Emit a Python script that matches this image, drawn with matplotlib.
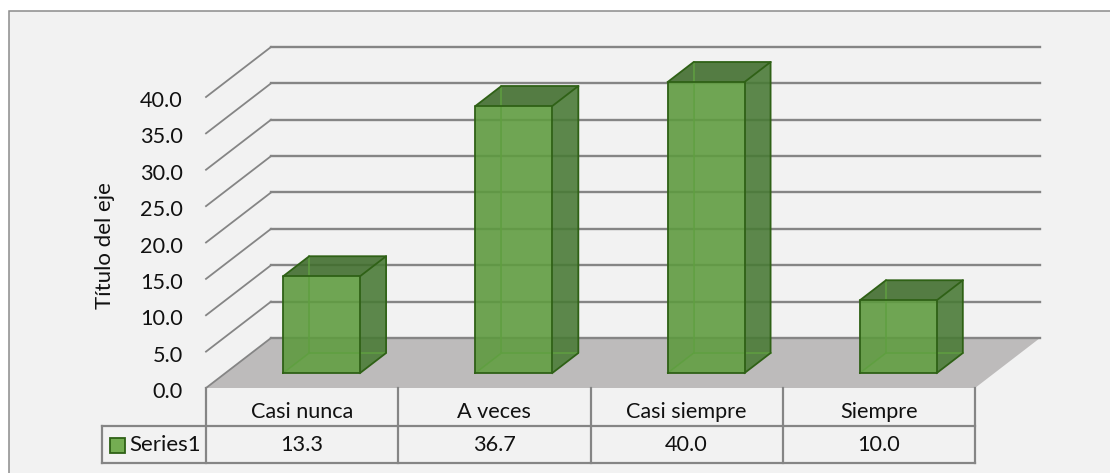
# -*- coding: utf-8 -*-
import matplotlib
matplotlib.use('Agg')
import matplotlib.pyplot as plt
from matplotlib.patches import Polygon, Rectangle

categories = ['Casi nunca', 'A veces', 'Casi siempre', 'Siempre']
values = [13.3, 36.7, 40.0, 10.0]
value_labels = ['13.3', '36.7', '40.0', '10.0']
ticks = [0, 5, 10, 15, 20, 25, 30, 35, 40]
series_name = 'Series1'
axis_title = 'Título del eje'

GRID = '#858585'
BG = '#f2f2f2'
TXT = '#111111'
FS = 15.6

# scale of the chart, pixels per category / per value unit
PX_CAT = 192.25
PX_VAL = 7.275
X0, Y0 = 206, 388
# oblique shift of the back wall, in data units
DX = 65 / PX_CAT
DY = 50 / PX_VAL

plt.rcParams['font.family'] = ['Lato', 'DejaVu Sans']


def proj(x, v, d):
    """category position, value, depth 0-1 -> 2d data coords"""
    return (x + d * DX, v + d * DY)


def draw_bar(ax, i, v, width=0.4, d0=0.3, d1=0.7):
    x0 = i + 0.5 - width / 2
    x1 = x0 + width
    edge = '#2f6116'
    faces = [
        # back, left, floor first so they show through the front
        ([(x0, 0, d1), (x1, 0, d1), (x1, v, d1), (x0, v, d1)], '#548c38', 0.55),
        ([(x0, 0, d0), (x0, 0, d1), (x0, v, d1), (x0, v, d0)], '#4a7f30', 0.55),
        ([(x0, 0, d0), (x1, 0, d0), (x1, 0, d1), (x0, 0, d1)], '#609c40', 0.55),
        ([(x0, v, d0), (x1, v, d0), (x1, v, d1), (x0, v, d1)], '#3d682b', 0.75),
        ([(x1, 0, d0), (x1, 0, d1), (x1, v, d1), (x1, v, d0)], '#477735', 0.75),
        ([(x0, 0, d0), (x1, 0, d0), (x1, v, d0), (x0, v, d0)], '#619f41', 0.75),
    ]
    for pts, col, a in faces:
        xy = [proj(*p) for p in pts]
        ax.add_patch(Polygon(xy, closed=True, facecolor=col, alpha=a, edgecolor='none', zorder=4))
    # hidden edges lighter, visible ones dark
    for pts, col, lw in [
        ([(x0, 0, d1), (x1, 0, d1)], '#5f9f40', 1.1),
        ([(x0, 0, d1), (x0, v, d1)], '#5f9f40', 1.1),
        ([(x0, 0, d0), (x0, 0, d1)], '#5f9f40', 1.1),
        ([(x0, 0, d0), (x1, 0, d0), (x1, v, d0), (x0, v, d0), (x0, 0, d0)], edge, 1.3),
        ([(x1, 0, d0), (x1, 0, d1), (x1, v, d1), (x1, v, d0)], edge, 1.3),
        ([(x0, v, d0), (x0, v, d1), (x1, v, d1)], edge, 1.3),
    ]:
        xy = [proj(*p) for p in pts]
        ax.plot([p[0] for p in xy], [p[1] for p in xy], color=col, lw=lw, zorder=5,
                solid_joinstyle='round')


fig = plt.figure(figsize=(11.10, 4.73), dpi=100, facecolor='white')
ax = fig.add_axes([0, 0, 1, 1])
ax.set_xlim(-X0 / PX_CAT, (1110 - X0) / PX_CAT)
ax.set_ylim((Y0 - 473) / PX_VAL, Y0 / PX_VAL)
ax.axis('off')

# chart area
left = (9 - X0) / PX_CAT
top = (Y0 - 11) / PX_VAL
ax.add_patch(Rectangle((left, -20), 30, top + 20, facecolor=BG, edgecolor='#8c8c8c', lw=1.1, zorder=0))

n = len(categories)

# floor
floor = [proj(0, 0, 0), proj(n, 0, 0), proj(n, 0, 1), proj(0, 0, 1)]
ax.add_patch(Polygon(floor, closed=True, facecolor='#bdbbbb', edgecolor='none', zorder=1))

# gridlines: side wall and back wall
text_dy = -4 / PX_VAL
for t in ticks:
    a, b, c = proj(0, t, 0), proj(0, t, 1), proj(n, t, 1)
    ax.plot([a[0], b[0]], [a[1], b[1]], color=GRID, lw=1.3, zorder=2)
    ax.plot([b[0], c[0]], [b[1], c[1]], color=GRID, lw=1.7, zorder=2)
    ax.text(-0.12, t + text_dy, f'{t:.1f}', ha='right', va='center', fontsize=FS, color=TXT)

for i, v in enumerate(values):
    draw_bar(ax, i, v)

# data table
row1, row2 = -37.5 / PX_VAL, -75 / PX_VAL
leg_x = (101.5 - X0) / PX_CAT
for i in range(n + 1):
    ax.plot([i, i], [0, row2], color=GRID, lw=1.6, zorder=2)
ax.plot([leg_x, n], [row1, row1], color=GRID, lw=1.6, zorder=2)
ax.plot([leg_x, n], [row2, row2], color=GRID, lw=1.6, zorder=2)
ax.plot([leg_x, leg_x], [row1, row2], color=GRID, lw=1.6, zorder=2)

for i, (c, s) in enumerate(zip(categories, value_labels)):
    ax.text(i + 0.5, (Y0 - 412) / PX_VAL, c, ha='center', va='center', fontsize=FS, color=TXT)
    ax.text(i + 0.5, (Y0 - 445) / PX_VAL, s, ha='center', va='center', fontsize=FS, color=TXT)

# legend key + name
ax.add_patch(Rectangle(((109.5 - X0) / PX_CAT, (Y0 - 453) / PX_VAL), 15.5 / PX_CAT, 15.5 / PX_VAL,
                       facecolor='#74ad52', edgecolor='#2f6116', lw=1.3, zorder=3))
ax.text((129 - X0) / PX_CAT, (Y0 - 445) / PX_VAL, series_name, ha='left', va='center', fontsize=16,
        color=TXT)

ax.text((105 - X0) / PX_CAT, (Y0 - 246) / PX_VAL, axis_title, rotation=90, ha='center', va='center',
        fontsize=16, color=TXT)

fig.savefig('out.png', dpi=100, facecolor='white')
